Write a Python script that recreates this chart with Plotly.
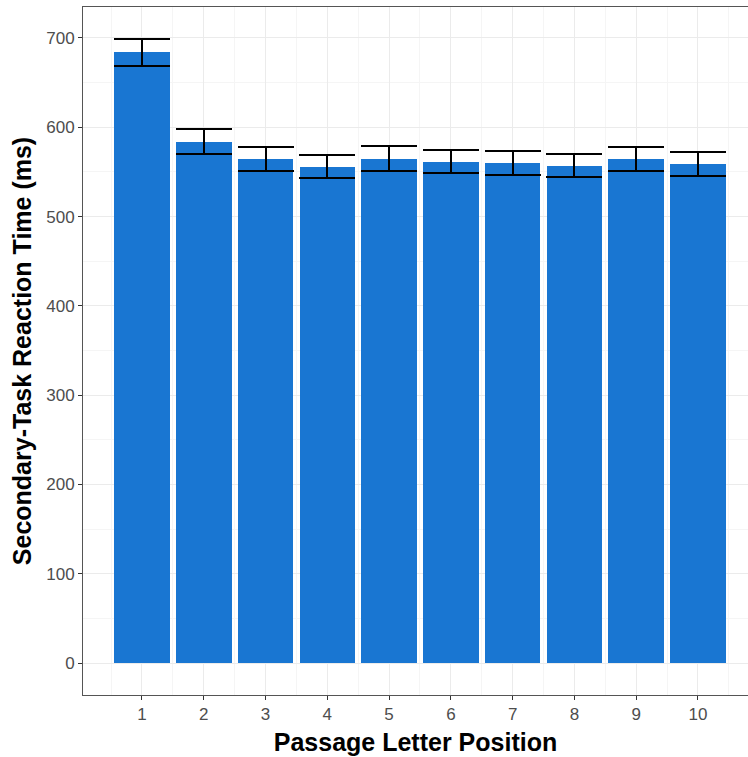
import plotly.graph_objects as go

positions = [1, 2, 3, 4, 5, 6, 7, 8, 9, 10]
tick_labels = ["1", "2", "3", "4", "5", "6", "7", "8", "9", "10"]
mean_rt = [684, 584, 564.5, 556, 565, 561.5, 560, 557, 564.5, 559]
se_rt = [15.4, 13.8, 13.5, 13.1, 14.0, 13.1, 13.5, 12.7, 13.5, 13.7]

fig = go.Figure()
fig.add_trace(go.Bar(
    x=positions, y=mean_rt, width=0.9,
    marker=dict(color="#1976D2", line=dict(width=0)),
    error_y=dict(type="data", array=se_rt, visible=True, color="black",
                 thickness=2, width=28),
    showlegend=False,
))

axis_font = dict(family="Liberation Sans, Arial, sans-serif", size=17, color="#4D4D4D")
title_font = dict(family="Liberation Sans, Arial, sans-serif", size=25, color="black")

fig.update_layout(
    width=748, height=757,
    margin=dict(l=83, r=0, t=7, b=62),
    paper_bgcolor="white", plot_bgcolor="white",
    bargap=0,
    xaxis=dict(
        range=[0.045, 10.81], tickvals=positions, ticktext=tick_labels,
        showgrid=True, gridcolor="#EBEBEB", gridwidth=1,
        minor=dict(dtick=0.5, tick0=0.5, showgrid=True, gridcolor="#F5F5F5", gridwidth=1),
        showline=True, linecolor="#555555", linewidth=1, mirror=True,
        ticks="outside", ticklen=4, tickcolor="#333333",
        tickfont=axis_font, zeroline=False,
        title=dict(text="<b>Passage Letter Position</b>", font=title_font, standoff=10),
    ),
    yaxis=dict(
        range=[-35.8, 734.7], tickvals=[0, 100, 200, 300, 400, 500, 600, 700],
        showgrid=True, gridcolor="#EBEBEB", gridwidth=1,
        minor=dict(dtick=50, tick0=0, showgrid=True, gridcolor="#F5F5F5", gridwidth=1),
        showline=True, linecolor="#555555", linewidth=1, mirror=False,
        ticks="outside", ticklen=4, tickcolor="#333333",
        tickfont=axis_font, zeroline=False,
        title=dict(text="<b>Secondary-Task Reaction Time (ms)</b>", font=title_font, standoff=7),
    ),
)

fig.write_html("out.html", config={"displayModeBar": False},
               post_script="document.body.style.margin='0';")
